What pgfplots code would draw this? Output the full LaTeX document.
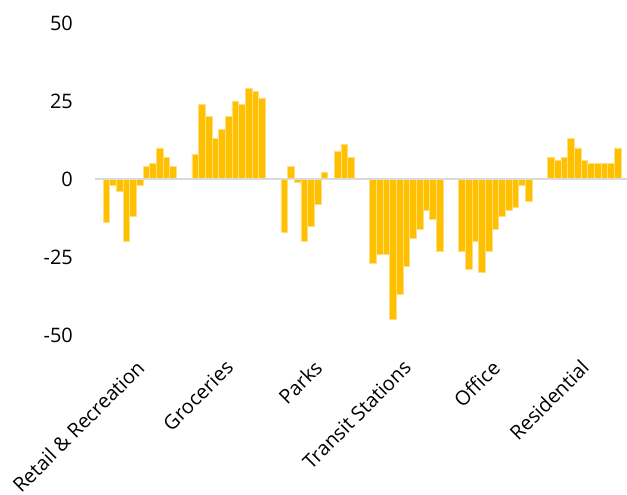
\documentclass[border=0pt]{standalone}
\usepackage{pgfplots}
\pgfplotsset{compat=1.18}
\usepackage{fontspec}
\setmainfont{Open Sans}
\definecolor{baryellow}{RGB}{255,192,0}
\definecolor{baredge}{RGB}{255,222,130}
\definecolor{zeroline}{RGB}{217,217,217}
\begin{document}
\begin{tikzpicture}[x=1bp,y=1bp]
\useasboundingbox (0,0) rectangle (627,495);
\begin{axis}[
  at={(95bp,160bp)}, anchor=south west,
  scale only axis, width=532bp, height=312bp,
  xmin=-1.2, xmax=78.6, ymin=-50, ymax=50,
  axis line style={draw=none}, major tick length=0pt,
  ytick={-50,-25,0,25,50}, yticklabels={-50,-25,0,25,50},
  xtick={5.5,18.833,32.167,45.5,58.833,72.167},
  xticklabels={Retail \& Recreation, Groceries, Parks, Transit Stations, Office, Residential},
  ticklabel style={font=\fontsize{20}{24}\selectfont, text=black},
  yticklabel style={anchor=east, inner sep=0pt, xshift=-22bp},
  xticklabel style={xshift=1bp, yshift=-29bp, rotate=45, anchor=east, inner sep=0pt},
  clip=false,
  mybar/.style={ybar, bar width=1, bar shift=0pt, fill=baryellow, draw=baredge, line width=0.5bp, mark=none},
]
% Retail & Recreation
\addplot[mybar] coordinates {(0.5,-14) (1.5,-2) (2.5,-4) (3.5,-20) (4.5,-12) (5.5,-2) (6.5,4) (7.5,5) (8.5,10) (9.5,7) (10.5,4)};
% Groceries
\addplot[mybar] coordinates {(13.833,8) (14.833,24) (15.833,20) (16.833,13) (17.833,16) (18.833,20) (19.833,25) (20.833,24) (21.833,29) (22.833,28) (23.833,26)};
% Parks
\addplot[mybar] coordinates {(27.167,-17) (28.167,4) (29.167,-1) (30.167,-20) (31.167,-15) (32.167,-8) (33.167,2) (34.167,0) (35.167,9) (36.167,11) (37.167,7)};
% Transit Stations
\addplot[mybar] coordinates {(40.5,-27) (41.5,-24) (42.5,-24) (43.5,-45) (44.5,-37) (45.5,-28) (46.5,-19) (47.5,-16) (48.5,-10) (49.5,-13) (50.5,-23)};
% Office
\addplot[mybar] coordinates {(53.833,-23) (54.833,-29) (55.833,-20) (56.833,-30) (57.833,-23) (58.833,-16) (59.833,-12) (60.833,-10) (61.833,-9) (62.833,-2) (63.833,-7)};
% Residential
\addplot[mybar] coordinates {(67.167,7) (68.167,6) (69.167,7) (70.167,13) (71.167,10) (72.167,6) (73.167,5) (74.167,5) (75.167,5) (76.167,5) (77.167,10)};
\draw[zeroline, line width=2bp] (axis cs:-1.2,0) -- (axis cs:78.6,0);
\end{axis}
\end{tikzpicture}
\end{document}
